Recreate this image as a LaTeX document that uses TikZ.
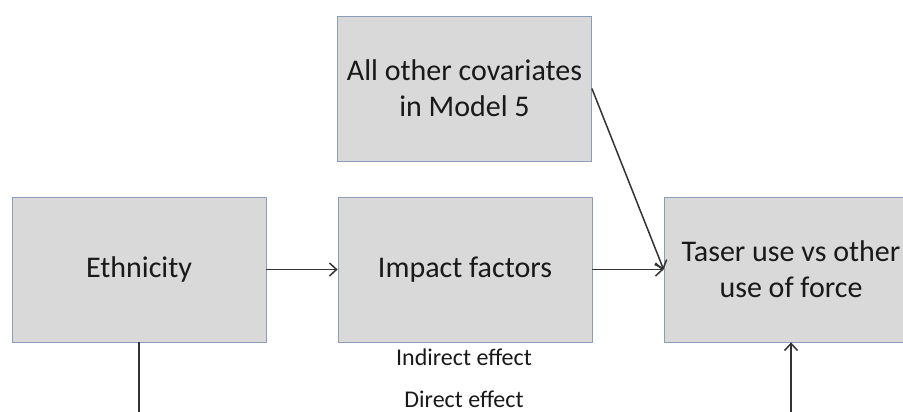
\documentclass[tikz,border=0pt]{standalone}
\usepackage{fontspec}
\setmainfont{Carlito}
\usetikzlibrary{arrows.meta}
\definecolor{boxedge}{HTML}{8C9DBA}
\definecolor{boxfill}{HTML}{D9D9D9}
\definecolor{linkcol}{HTML}{333333}
\begin{document}
\begin{tikzpicture}[x=1pt,y=-1pt,
  box/.style={draw=boxedge, fill=boxfill, line width=0.8pt,
    minimum width=254pt, minimum height=145pt, inner sep=0pt,
    align=center, text=black!90, font=\fontsize{30}{36}\selectfont},
  link/.style={draw=linkcol, line width=1.5pt},
  arr/.style={link, -{Straight Barb[length=7pt,width=13pt,line width=1.5pt]}},
  lbl/.style={text=black!90, font=\fontsize{24}{28}\selectfont}]
\useasboundingbox (0,0) rectangle (903,412);
\clip (0,0) rectangle (903,412);

% boxes
\node[box] (eth) at (139,269.5) {Ethnicity};
\node[box] (cov) at (464.5,88.5) {All other covariates\\in Model 5};
\node[box] (imp) at (465,269.5) {Impact factors};
\node[box] (tas) at (791,269.5) {Taser use vs other\\use of force};

% effect labels
\node[lbl] (ind) at (464,357) {Indirect effect};
\node[lbl] (dir) at (464,399) {Direct effect};

% free ends of the direct path below the frame
\coordinate (dstart) at (139,420);
\coordinate (dend) at (791,420);

% connectors
\draw[arr] (eth.east) -- (imp.west);
\draw[arr] (imp.east) -- (tas.west);
\draw[arr] (cov.east) -- (tas.west);
\draw[link] (eth.south) -- (dstart);
\draw[arr] (dend) -- (tas.south);
\end{tikzpicture}
\end{document}
